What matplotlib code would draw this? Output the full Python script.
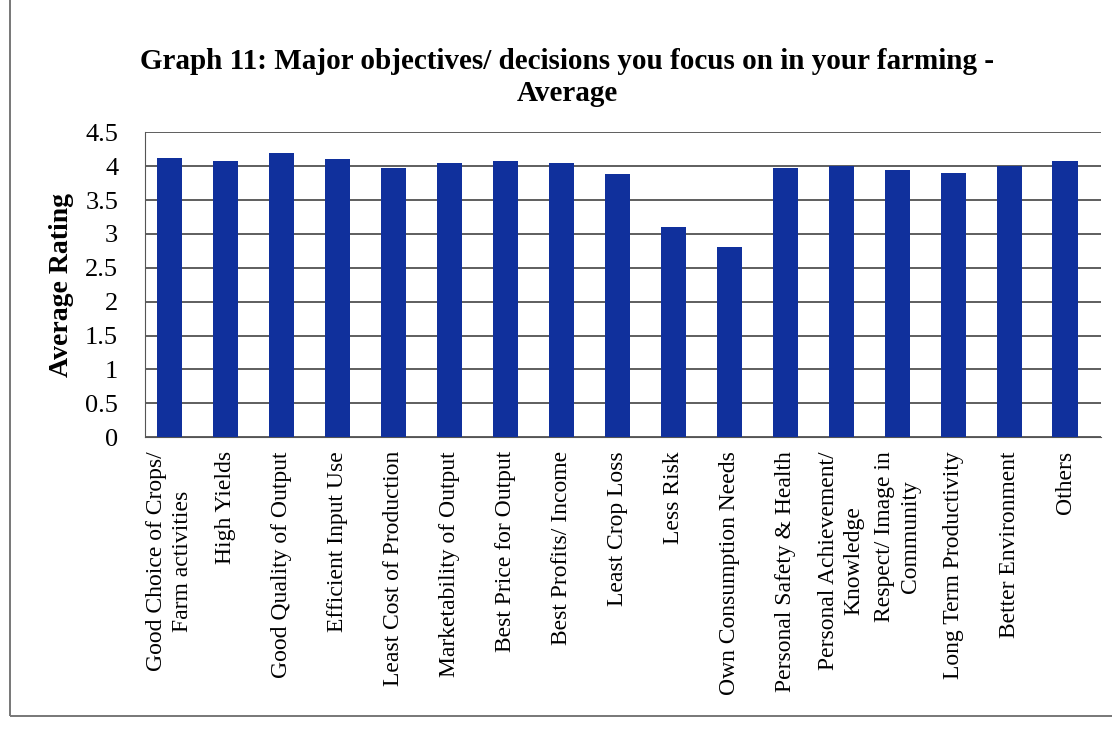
import matplotlib.pyplot as plt
from matplotlib.patches import Rectangle

categories = [
    "Good Choice of Crops/\nFarm activities", "High Yields", "Good Quality of Output",
    "Efficient Input Use", "Least Cost of Production", "Marketability of Output",
    "Best Price for Output", "Best Profits/ Income", "Least Crop Loss", "Less Risk",
    "Own Consumption Needs", "Personal Safety & Health", "Personal Achievement/\nKnowledge",
    "Respect/ Image in\nCommunity", "Long Term Productivity", "Better Environment", "Others",
]
ratings = [4.12, 4.08, 4.19, 4.11, 3.97, 4.05, 4.08, 4.05, 3.89, 3.10,
           2.81, 3.97, 4.00, 3.94, 3.90, 4.00, 4.08]
yticks = [0, 0.5, 1, 1.5, 2, 2.5, 3, 3.5, 4, 4.5]

plt.rcParams['font.family'] = ['Liberation Serif', 'DejaVu Serif']

fig = plt.figure(figsize=(11.12, 7.31), dpi=100)
ax = fig.add_axes([0.13, 0.402, 0.86, 0.417])

x = range(len(categories))
ax.bar(x, ratings, width=0.45, color='#10309c', zorder=3)

ax.set_ylim(0, 4.5)
ax.set_xlim(-0.45, len(categories) - 0.36)
ax.set_yticks(yticks)
ax.set_yticklabels([f"{v:g}" for v in yticks], fontsize=19)
ax.yaxis.grid(True, color='#333333', linewidth=1.1, zorder=0)
ax.tick_params(axis='y', length=0, pad=19)
ax.tick_params(axis='x', length=0, pad=10)
ax.set_xticks(list(x))
ax.set_xticklabels(categories, rotation=90, fontsize=17, ha='center', va='top',
                   multialignment='center', linespacing=1.3)

for side in ['top', 'right']:
    ax.spines[side].set_visible(False)
ax.spines['left'].set_color('#555555')
ax.spines['bottom'].set_color('#555555')

ax.set_ylabel("Average Rating", fontsize=20, fontweight='bold', labelpad=8)

fig.text(0.51, 0.894, "Graph 11: Major objectives/ decisions you focus on in your farming -\nAverage",
         ha='center', va='center', fontsize=21, fontweight='bold', linespacing=1.2)

# outer chart frame (top and right fall off the page in the scan)
fig.patches.append(Rectangle((0.009, 0.021), 1.2, 1.2, transform=fig.transFigure,
                             fill=False, edgecolor='#777777', linewidth=1.4))

plt.savefig("out.png", dpi=100)
